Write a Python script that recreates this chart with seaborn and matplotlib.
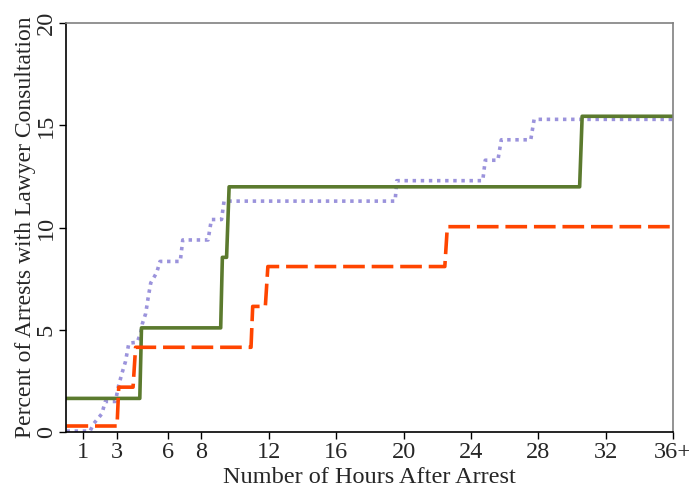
import matplotlib
matplotlib.use("Agg")
import matplotlib.pyplot as plt
import seaborn as sns
import pandas as pd

# hours after arrest / percent with lawyer consultation
green_hours = [0, 4.35, 4.45, 9.15, 9.25, 9.5, 9.65, 30.45, 30.6, 36]
green_pct = [1.65, 1.65, 5.1, 5.1, 8.55, 8.55, 12.0, 12.0, 15.45, 15.45]

orange_hours = [0, 3.0, 3.1, 3.95, 4.1, 10.95, 11.05, 11.8, 11.95, 22.45, 22.6, 36]
orange_pct = [0.3, 0.3, 2.2, 2.2, 4.15, 4.15, 6.15, 6.15, 8.1, 8.1, 10.05, 10.05]

purple_hours = [0, 1.4, 1.6, 2.1, 2.3, 2.9, 3.1, 3.3, 3.5, 3.7, 4.2, 4.4, 4.5,
                4.7, 4.85, 5.0, 5.35, 5.55, 6.75, 6.9, 8.4, 8.6, 9.2, 9.35,
                19.5, 19.6, 24.7, 24.85, 25.6, 25.8, 27.55, 27.75, 36]
purple_pct = [0.05, 0.05, 0.4, 0.9, 1.5, 1.5, 2.3, 2.9, 3.45, 4.35, 4.4, 4.85, 5.3,
              5.8, 6.6, 7.3, 7.8, 8.35, 8.35, 9.4, 9.4, 10.4, 10.4, 11.3,
              11.3, 12.3, 12.3, 13.3, 13.3, 14.3, 14.3, 15.3, 15.3]

x_ticks = [1, 3, 6, 8, 12, 16, 20, 24, 28, 32, 36]
x_labels = ["1", "3", "6", "8", "12", "16", "20", "24", "28", "32", "36+"]
y_ticks = [0, 5, 10, 15, 20]

sns.set_style("white")
plt.rcParams["font.family"] = ["Liberation Serif", "DejaVu Serif"]

fig = plt.figure(figsize=(6.89, 4.95), dpi=100)
ax = fig.add_axes([0.0965, 0.127, 0.8805, 0.826])

purple = pd.DataFrame({"hours": purple_hours, "pct": purple_pct})
green = pd.DataFrame({"hours": green_hours, "pct": green_pct})
orange = pd.DataFrame({"hours": orange_hours, "pct": orange_pct})

sns.lineplot(data=purple, x="hours", y="pct", sort=False, estimator=None, ax=ax,
             color="#9b93dc", linewidth=2.6, linestyle=(0, (0.95, 1.3)))
sns.lineplot(data=green, x="hours", y="pct", sort=False, estimator=None, ax=ax,
             color="#5b7a2e", linewidth=2.6)
sns.lineplot(data=orange, x="hours", y="pct", sort=False, estimator=None, ax=ax,
             color="#ff4500", linewidth=2.6, linestyle=(0, (6.0, 1.9)))

ax.set_xlim(0, 36)
ax.set_ylim(0, 20)
ax.set_xticks(x_ticks)
ax.set_xticklabels(x_labels, fontsize=17.5)
ax.set_yticks(y_ticks)
ax.set_yticklabels([str(v) for v in y_ticks], fontsize=17.5, rotation=90, va="center")
ax.set_xlabel("Number of Hours After Arrest", fontsize=17.5, labelpad=3)
ax.set_ylabel("Percent of Arrests with Lawyer Consultation", fontsize=17, labelpad=0)

ax.tick_params(axis="both", direction="out", length=5, width=1, color="black",
               bottom=True, left=True, pad=2)
for side in ["left", "bottom"]:
    ax.spines[side].set_color("black")
    ax.spines[side].set_linewidth(1.2)
for side in ["top", "right"]:
    ax.spines[side].set_color("#808080")
    ax.spines[side].set_linewidth(1.2)

fig.savefig("out.png", dpi=100)
plt.close()
